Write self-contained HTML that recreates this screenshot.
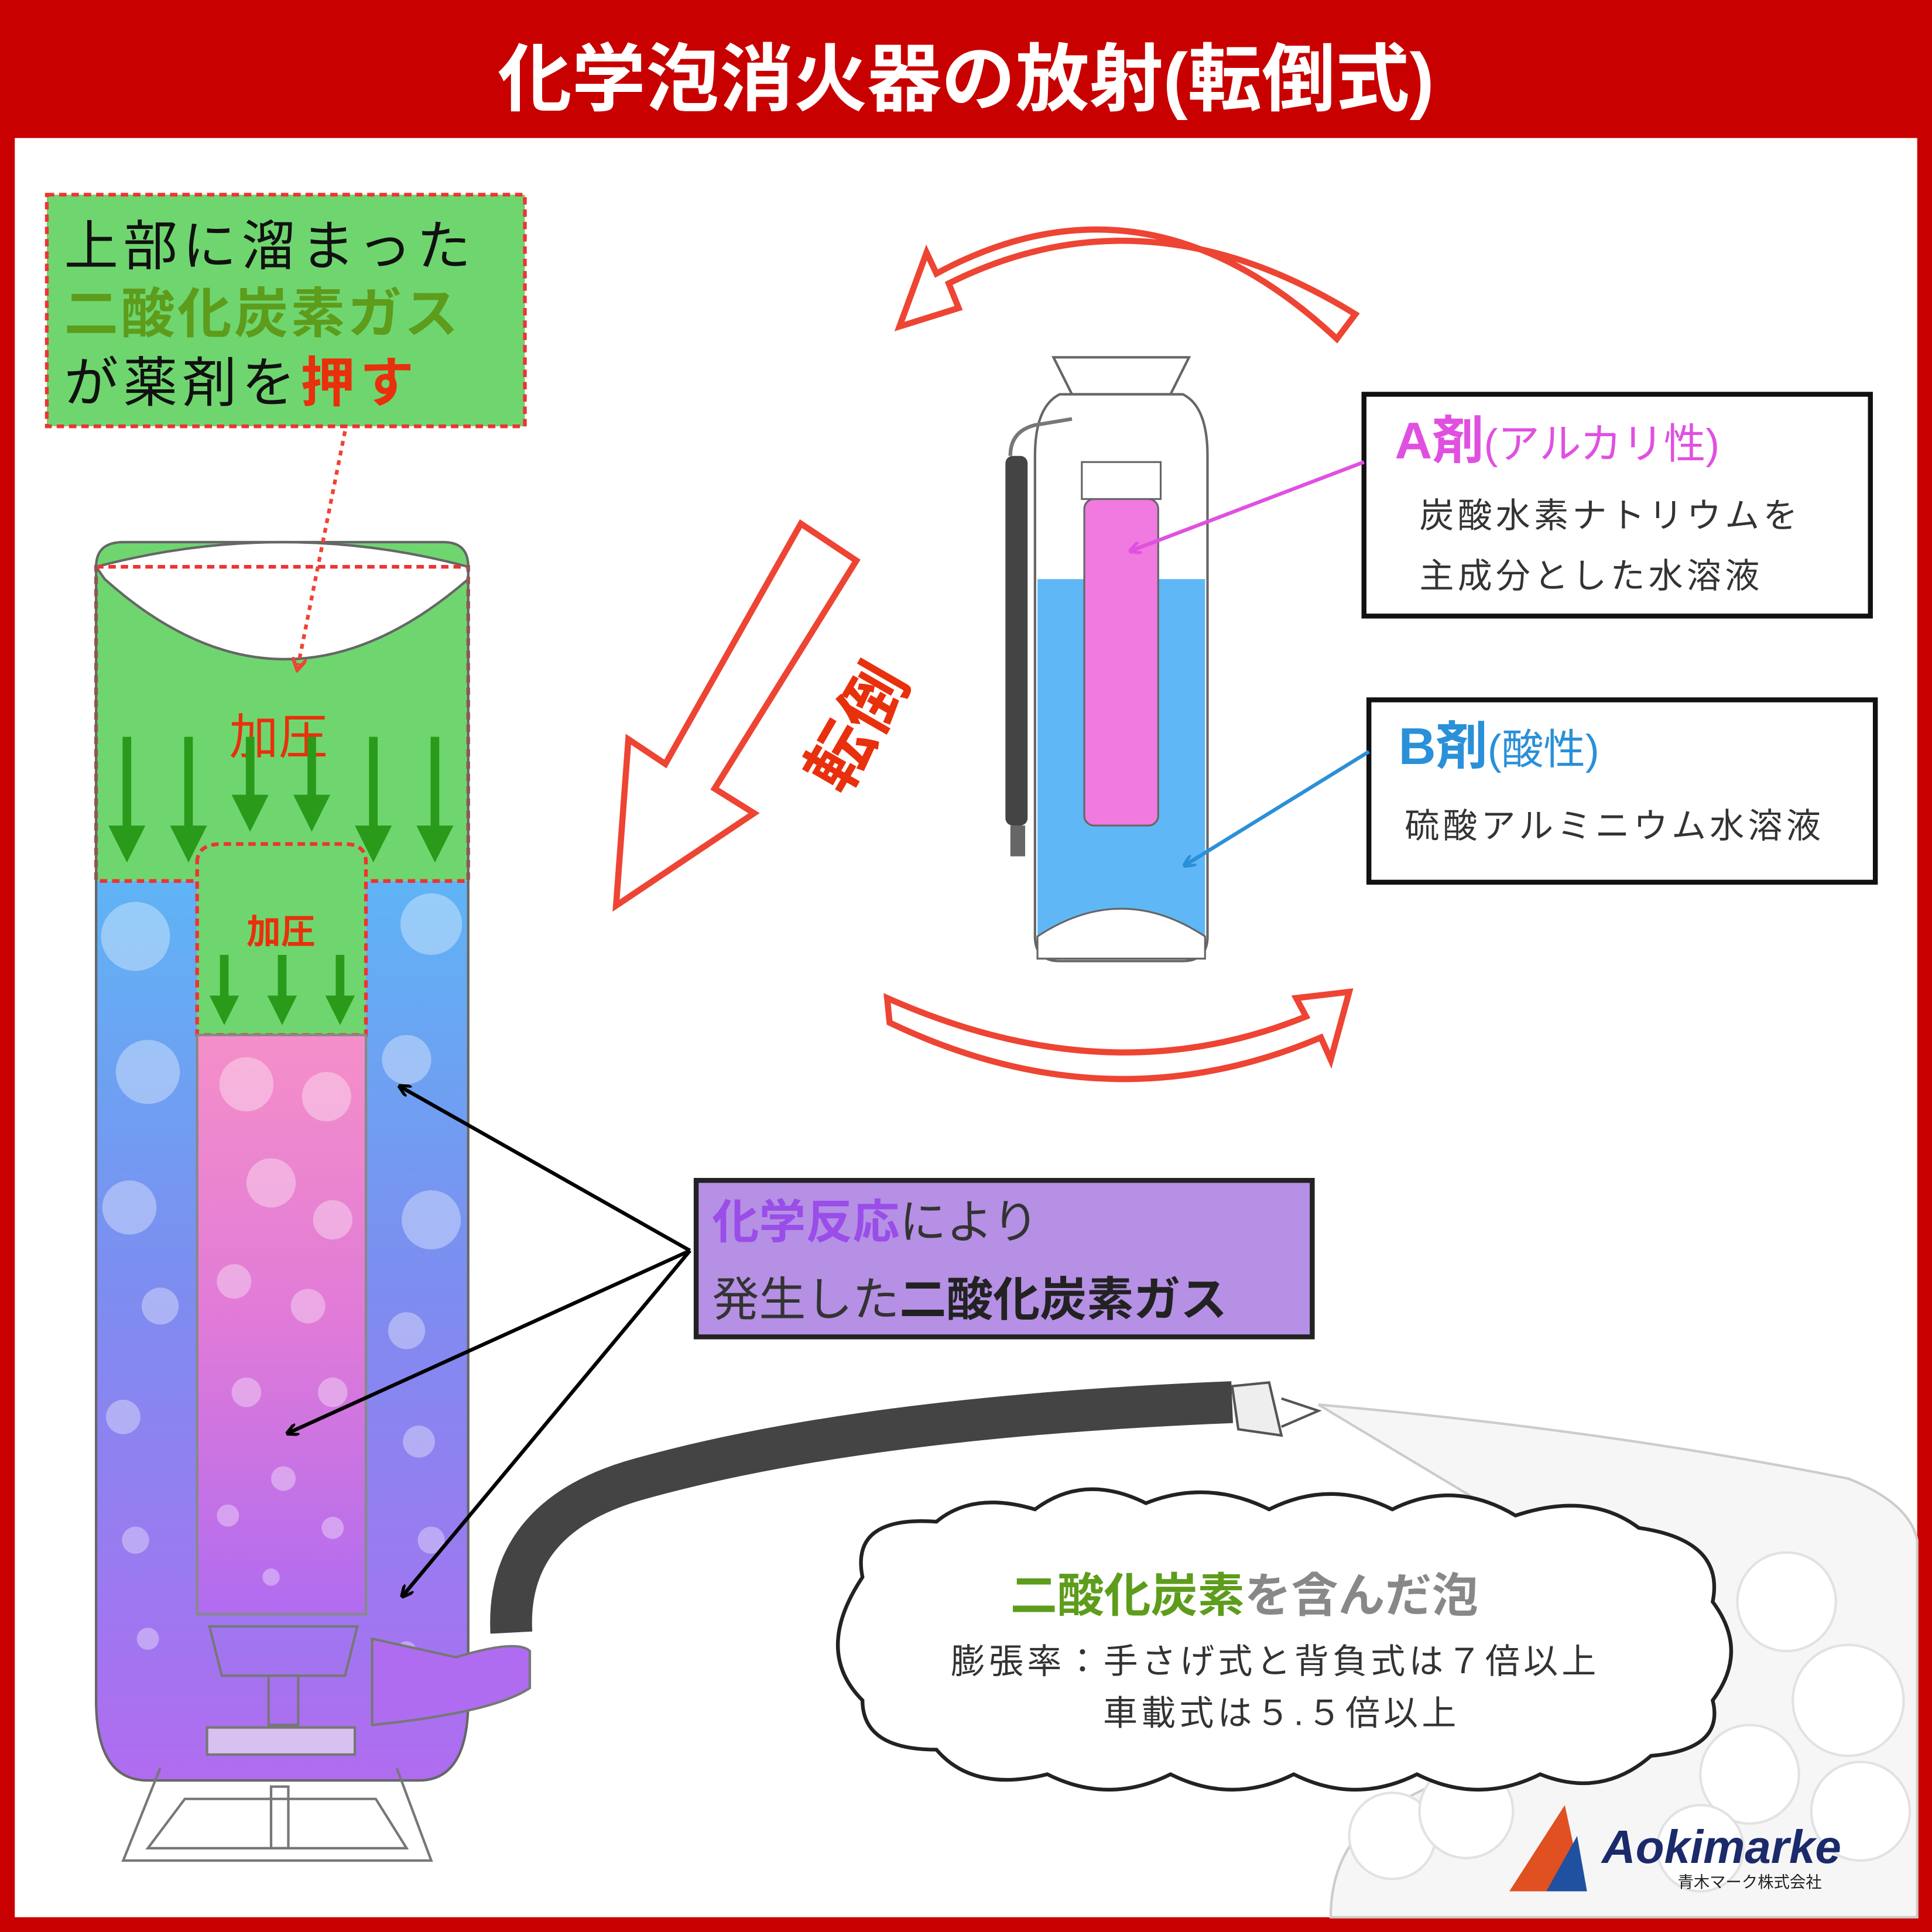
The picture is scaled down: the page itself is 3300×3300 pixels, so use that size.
<!DOCTYPE html>
<html><head><meta charset="utf-8"><style>
html,body{margin:0;padding:0;background:#c80000;}
svg{display:block;}
text{font-family:"Liberation Sans","Noto Sans CJK JP",sans-serif;}
</style></head><body>
<svg width="3300" height="3300" viewBox="0 0 1568 1568" xmlns="http://www.w3.org/2000/svg">
<defs>
<linearGradient id="body" x1="0" y1="0" x2="0" y2="1">
<stop offset="0" stop-color="#5fb4f5"/><stop offset="0.45" stop-color="#7d8df0"/><stop offset="1" stop-color="#b06cf0"/>
</linearGradient>
<linearGradient id="tube" x1="0" y1="0" x2="0" y2="1">
<stop offset="0" stop-color="#f58fc8"/><stop offset="0.5" stop-color="#e07ad8"/><stop offset="1" stop-color="#b06cf0"/>
</linearGradient>
<marker id="ah" markerWidth="10" markerHeight="10" refX="8" refY="5" orient="auto" markerUnits="userSpaceOnUse"><path d="M0,0 L10,5 L0,10" fill="none" stroke="#000" stroke-width="2.5"/></marker>
<marker id="ahr" markerWidth="12" markerHeight="12" refX="6" refY="6" orient="auto" markerUnits="userSpaceOnUse"><path d="M0,0 L10,6 L0,12" fill="none" stroke="#e43" stroke-width="3"/></marker>
<marker id="ahm" markerWidth="10" markerHeight="10" refX="8" refY="5" orient="auto" markerUnits="userSpaceOnUse"><path d="M0,0 L10,5 L0,10" fill="none" stroke="#e050e0" stroke-width="2.5"/></marker>
<marker id="ahb" markerWidth="10" markerHeight="10" refX="8" refY="5" orient="auto" markerUnits="userSpaceOnUse"><path d="M0,0 L10,5 L0,10" fill="none" stroke="#2a90d8" stroke-width="2.5"/></marker>
</defs>
<rect width="1568" height="1568" fill="#c80000"/>
<rect x="12" y="112" width="1544" height="1444" fill="#fff"/>
<text x="784" y="85" font-size="60" font-weight="bold" fill="#fff" text-anchor="middle">化学泡消火器の放射(転倒式)</text>

<!-- green label box -->
<rect x="38" y="158" width="388" height="188" fill="#6fd66f" stroke="#e33" stroke-width="3" stroke-dasharray="6,4"/>
<text x="52" y="215" font-size="44" fill="#111" letter-spacing="4">上部に溜まった</text>
<text x="52" y="270" font-size="44" font-weight="bold" fill="#5e9c1c" letter-spacing="2">二酸化炭素ガス</text>
<text x="52" y="326" font-size="44" fill="#111" letter-spacing="4">が薬剤を<tspan fill="#e8300c" font-weight="bold">押す</tspan></text>

<!-- big extinguisher -->
<path d="M78,460 Q78,440 100,440 L360,440 Q380,440 380,460 L380,715 L78,715 Z" fill="#6fd66f"/>
<path d="M78,460 Q230,420 380,460 L380,470 Q230,600 85,470 Z" fill="#fff" stroke="#666" stroke-width="2"/>
<path d="M78,715 L380,715 L380,1380 Q380,1445 340,1445 L120,1445 Q78,1445 78,1380 Z" fill="url(#body)"/>
<rect x="78" y="460" width="302" height="255" fill="none" stroke="#e33" stroke-width="3" stroke-dasharray="6,4"/>
<path d="M78,460 Q78,440 100,440 L360,440 Q380,440 380,460 L380,1380 Q380,1445 340,1445 L120,1445 Q78,1445 78,1380 Z" fill="none" stroke="#666" stroke-width="2"/>
<g fill="#fff" opacity="0.35">
<circle cx="110" cy="760" r="28"/><circle cx="350" cy="750" r="25"/><circle cx="120" cy="870" r="26"/><circle cx="330" cy="860" r="20"/><circle cx="105" cy="980" r="22"/><circle cx="350" cy="990" r="24"/><circle cx="130" cy="1060" r="15"/><circle cx="330" cy="1080" r="15"/><circle cx="100" cy="1150" r="14"/><circle cx="340" cy="1170" r="13"/><circle cx="110" cy="1250" r="11"/><circle cx="350" cy="1250" r="11"/><circle cx="120" cy="1330" r="9"/><circle cx="330" cy="1340" r="8"/>
</g>
<path d="M160,700 Q160,685 180,685 L280,685 Q297,685 297,700 L297,840 L160,840 Z" fill="#6fd66f" stroke="#e33" stroke-width="3" stroke-dasharray="6,4"/>
<path d="M160,840 L297,840 L297,1310 L160,1310 Z" fill="url(#tube)" stroke="#888" stroke-width="2"/>
<g fill="#fff" opacity="0.35">
<circle cx="200" cy="880" r="22"/><circle cx="265" cy="890" r="20"/><circle cx="220" cy="960" r="20"/><circle cx="270" cy="990" r="16"/><circle cx="190" cy="1040" r="14"/><circle cx="250" cy="1060" r="14"/><circle cx="200" cy="1130" r="12"/><circle cx="270" cy="1130" r="12"/><circle cx="230" cy="1200" r="10"/><circle cx="185" cy="1230" r="9"/><circle cx="270" cy="1240" r="9"/><circle cx="220" cy="1280" r="7"/>
</g>
<text x="226" y="612" font-size="40" fill="#e8300c" text-anchor="middle">加圧</text>
<text x="228" y="766" font-size="28" font-weight="bold" fill="#e8300c" text-anchor="middle">加圧</text>
<g stroke="#2a9a1a" stroke-width="7" fill="#2a9a1a">
<line x1="103" y1="598" x2="103" y2="680"/><polygon points="88,670 118,670 103,700" stroke="none"/>
<line x1="153" y1="598" x2="153" y2="680"/><polygon points="138,670 168,670 153,700" stroke="none"/>
<line x1="203" y1="598" x2="203" y2="655"/><polygon points="188,645 218,645 203,675" stroke="none"/>
<line x1="253" y1="598" x2="253" y2="655"/><polygon points="238,645 268,645 253,675" stroke="none"/>
<line x1="303" y1="598" x2="303" y2="680"/><polygon points="288,670 318,670 303,700" stroke="none"/>
<line x1="353" y1="598" x2="353" y2="680"/><polygon points="338,670 368,670 353,700" stroke="none"/>
<line x1="182" y1="775" x2="182" y2="815"/><polygon points="170,808 194,808 182,832" stroke="none"/>
<line x1="229" y1="775" x2="229" y2="815"/><polygon points="217,808 241,808 229,832" stroke="none"/>
<line x1="276" y1="775" x2="276" y2="815"/><polygon points="264,808 288,808 276,832" stroke="none"/>
</g>
<line x1="280" y1="350" x2="242" y2="540" stroke="#e43" stroke-width="3" stroke-dasharray="4,4" marker-end="url(#ahr)"/>
<path d="M170,1320 L290,1320 L280,1360 L180,1360 Z" fill="none" stroke="#777" stroke-width="2"/>
<rect x="218" y="1360" width="24" height="40" fill="none" stroke="#777" stroke-width="2"/>
<rect x="168" y="1402" width="120" height="22" fill="#d8c0f0" stroke="#777" stroke-width="2"/>
<path d="M302,1330 L370,1345 Q420,1330 430,1340 L430,1370 Q400,1390 302,1400 Z" fill="#b06cf0" stroke="#777" stroke-width="2"/>
<path d="M130,1435 L100,1510 L350,1510 L322,1435" fill="none" stroke="#777" stroke-width="2"/>
<path d="M150,1460 L120,1500 L330,1500 L305,1460 Z" fill="none" stroke="#777" stroke-width="2"/>
<rect x="220" y="1450" width="14" height="50" fill="none" stroke="#777" stroke-width="2"/>
<!-- hose -->
<path d="M415,1325 Q410,1230 520,1200 Q700,1150 1000,1138" fill="none" stroke="#444" stroke-width="34"/>
<path d="M1000,1125 L1030,1122 L1040,1165 L1005,1160 Z" fill="#eee" stroke="#555" stroke-width="2"/>
<path d="M1040,1135 L1070,1145 L1040,1158" fill="#fff" stroke="#555" stroke-width="2"/>
<!-- foam spray -->
<path d="M1070,1140 Q1300,1160 1500,1200 Q1550,1220 1556,1250 L1556,1556 L1080,1556 Q1080,1490 1140,1460 L1300,1380 L1220,1230 Z" fill="#f6f6f6" stroke="#ccc" stroke-width="2"/>
<g fill="#fff" stroke="#e2e2e2" stroke-width="2">
<circle cx="1130" cy="1490" r="35"/><circle cx="1190" cy="1470" r="38"/><circle cx="1450" cy="1300" r="40"/><circle cx="1500" cy="1380" r="45"/><circle cx="1420" cy="1440" r="40"/><circle cx="1510" cy="1470" r="40"/><circle cx="1380" cy="1500" r="35"/>
</g>
<!-- cloud -->
<path d="M700,1280 Q690,1230 760,1235 Q790,1210 840,1225 Q880,1195 930,1220 Q980,1200 1030,1225 Q1080,1200 1130,1225 Q1180,1200 1230,1230 Q1290,1210 1330,1240 Q1400,1250 1390,1300 Q1420,1340 1390,1380 Q1400,1420 1340,1425 Q1300,1460 1250,1440 Q1200,1465 1150,1440 Q1100,1465 1050,1440 Q1000,1465 950,1440 Q900,1465 850,1440 Q790,1455 760,1420 Q700,1420 700,1380 Q660,1340 700,1280 Z" fill="#fff" stroke="#222" stroke-width="3"/>
<text x="1010" y="1308" font-size="38" font-weight="bold" fill="#5e9c1c" text-anchor="middle">二酸化炭素<tspan fill="#888">を含んだ泡</tspan></text>
<text x="1035" y="1358" font-size="28" fill="#333" text-anchor="middle" letter-spacing="3">膨張率：手さげ式と背負式は７倍以上</text>
<text x="1040" y="1400" font-size="28" fill="#333" text-anchor="middle" letter-spacing="3">車載式は５.５倍以上</text>

<!-- purple box -->
<rect x="565" y="958" width="500" height="127" fill="#b590e4" stroke="#222" stroke-width="4"/>
<text x="578" y="1005" font-size="38" fill="#9a4de8" font-weight="bold">化学反応<tspan fill="#333" font-weight="normal">により</tspan></text>
<text x="578" y="1068" font-size="38" fill="#333">発生した<tspan font-weight="bold" fill="#222">二酸化炭素ガス</tspan></text>
<g stroke="#000" stroke-width="3" fill="none">
<line x1="560" y1="1015" x2="325" y2="882" marker-end="url(#ah)"/>
<line x1="560" y1="1015" x2="234" y2="1163" marker-end="url(#ah)"/>
<line x1="560" y1="1015" x2="327" y2="1295" marker-end="url(#ah)"/>
</g>

<!-- red curved arrows -->
<path d="M1100,255 Q930,150 770,230 L778,250 L730,265 L752,205 L760,222 Q930,130 1085,275 Z" fill="#fff" stroke="#e43" stroke-width="5"/>
<path d="M720,810 Q900,890 1060,825 L1052,810 L1095,805 L1080,860 L1072,842 Q900,915 722,830 Z" fill="#fff" stroke="#e43" stroke-width="5"/>
<path d="M650,425 L695,455 L580,640 L612,660 L500,735 L510,600 L540,620 Z" fill="#fff" stroke="#e43" stroke-width="5"/>
<text transform="translate(712,600) rotate(-60)" font-size="54" font-weight="bold" fill="#e8300c" text-anchor="middle">転倒</text>

<!-- small extinguisher -->
<path d="M855,290 L965,290 L950,320 L870,320 Z" fill="#fff" stroke="#666" stroke-width="2"/>
<path d="M860,320 Q840,330 840,370 L840,760 Q840,780 860,780 L960,780 Q980,780 980,760 L980,370 Q980,330 960,320 Z" fill="#fff" stroke="#666" stroke-width="2"/>
<path d="M842,470 L978,470 L978,760 Q978,778 960,778 L860,778 Q842,778 842,760 Z" fill="#5fb8f5"/>
<path d="M842,760 Q910,715 978,760 L978,778 L842,778 Z" fill="#fff" stroke="#666" stroke-width="1.5"/>
<rect x="880" y="405" width="60" height="265" rx="8" fill="#f07ae0" stroke="#666" stroke-width="1.5"/>
<rect x="878" y="375" width="64" height="30" fill="#fff" stroke="#666" stroke-width="1.5"/>
<path d="M820,370 Q820,350 840,345 L870,340" fill="none" stroke="#777" stroke-width="3"/>
<rect x="816" y="370" width="18" height="300" rx="6" fill="#444"/>
<rect x="820" y="670" width="12" height="25" fill="#666"/>

<!-- A box -->
<rect x="1107" y="320" width="411" height="180" fill="#fff" stroke="#111" stroke-width="4"/>
<text x="1132" y="372" font-size="42" font-weight="bold" fill="#e050e0">A剤<tspan font-size="34" font-weight="normal">(アルカリ性)</tspan></text>
<text x="1152" y="428" font-size="28" fill="#333" letter-spacing="3">炭酸水素ナトリウムを</text>
<text x="1152" y="477" font-size="28" fill="#333" letter-spacing="3">主成分とした水溶液</text>
<line x1="1107" y1="375" x2="918" y2="447" stroke="#e050e0" stroke-width="3" marker-end="url(#ahm)"/>
<!-- B box -->
<rect x="1111" y="568" width="411" height="148" fill="#fff" stroke="#111" stroke-width="4"/>
<text x="1135" y="620" font-size="42" font-weight="bold" fill="#2a90d8">B剤<tspan font-size="34" font-weight="normal">(酸性)</tspan></text>
<text x="1140" y="680" font-size="28" fill="#333" letter-spacing="3">硫酸アルミニウム水溶液</text>
<line x1="1111" y1="610" x2="962" y2="702" stroke="#2a90d8" stroke-width="3" marker-end="url(#ahb)"/>

<!-- logo -->
<path d="M1225,1535 L1270,1465 L1285,1535 Z" fill="#e05020"/>
<path d="M1255,1535 L1280,1490 L1288,1535 Z" fill="#2050a0"/>
<text x="1300" y="1512" font-size="38" font-weight="bold" font-style="italic" fill="#1a2a6a">Aokimarke</text>
<text x="1420" y="1532" font-size="13" fill="#222" text-anchor="middle">青木マーク株式会社</text>
</svg>
</body></html>
